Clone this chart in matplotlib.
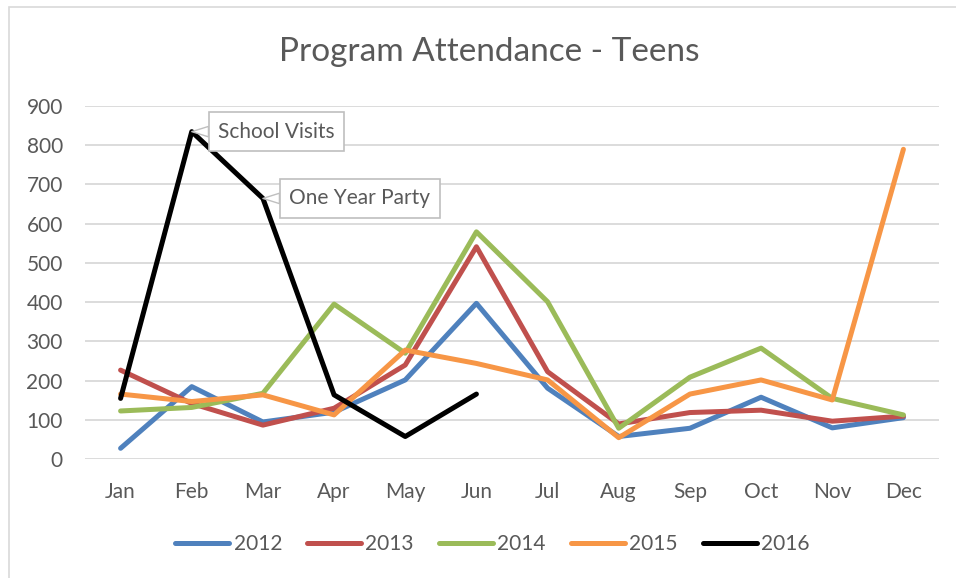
import matplotlib
matplotlib.use("Agg")
import matplotlib.pyplot as plt
from matplotlib.patches import Rectangle

months = ["Jan", "Feb", "Mar", "Apr", "May", "Jun",
          "Jul", "Aug", "Sep", "Oct", "Nov", "Dec"]
att_2012 = [28, 185, 95, 120, 202, 397, 181, 58, 79, 158, 80, 106]
att_2013 = [227, 142, 87, 130, 240, 541, 223, 90, 119, 125, 97, 110]
att_2014 = [123, 132, 168, 395, 270, 579, 401, 79, 209, 283, 155, 113]
att_2015 = [166, 147, 164, 113, 278, 244, 202, 55, 166, 202, 151, 789]
att_2016 = [155, 834, 664, 164, 58, 166]
notes = {1: "School Visits", 2: "One Year Party"}  # index in 2016 series

series = [("2012", att_2012, "#4f81bd"),
          ("2013", att_2013, "#c0504d"),
          ("2014", att_2014, "#9bbb59"),
          ("2015", att_2015, "#f79646"),
          ("2016", att_2016, "#000000")]

plt.rcParams["font.family"] = ["Lato", "DejaVu Sans"]
txt = "#595959"

fig = plt.figure(figsize=(9.56, 5.78), dpi=100)
ax = fig.add_axes([85 / 956, 1 - 459.3 / 578, (939 - 85) / 956, (459.3 - 105.7) / 578])

# chart border (only left and top edges fall inside the image)
fig.patches.append(Rectangle((9 / 956, -0.05), 1.1, 1.05 - 7 / 578,
                             transform=fig.transFigure, fill=False,
                             ec="#d9d9d9", lw=1.2))

for name, vals, col in series:
    ax.plot(range(len(vals)), vals, color=col, lw=3.6, label=name,
            solid_capstyle="round")

for i, label in notes.items():
    ax.annotate(label, xy=(i, att_2016[i]),
                xytext=(85 if i == 1 else 97, 0), textcoords="offset pixels",
                ha="center", va="center", fontsize=15, color=txt,
                bbox=dict(boxstyle="square,pad=0.45", fc="white", ec="#bfbfbf", lw=1.2),
                arrowprops=dict(arrowstyle="wedge,tail_width=0.5,shrink_factor=0.5",
                                fc="white", ec="#bfbfbf", lw=1.0,
                                shrinkA=0, shrinkB=0))

ax.set_xlim(-0.5, 11.5)
ax.set_ylim(0, 900)
ax.set_xticks(range(12))
ax.set_xticklabels(months)
ax.set_yticks(range(0, 901, 100))
ax.tick_params(length=0, labelsize=15, colors=txt)
ax.tick_params(axis="x", pad=16)
ax.tick_params(axis="y", pad=16)
ax.grid(axis="y", color="#d9d9d9", lw=1.3)
ax.set_axisbelow(True)
for s in ax.spines.values():
    s.set_visible(False)

fig.text(0.512, 1 - 52 / 578, "Program Attendance - Teens", ha="center", va="center",
         fontsize=24, color=txt)

fig.legend(loc="center", bbox_to_anchor=(0.515, 1 - 544 / 578), ncol=5, frameon=False,
           fontsize=15, handlelength=2.6, handletextpad=0.2, columnspacing=1.2,
           labelcolor=txt)

plt.savefig("out.png", dpi=100)
